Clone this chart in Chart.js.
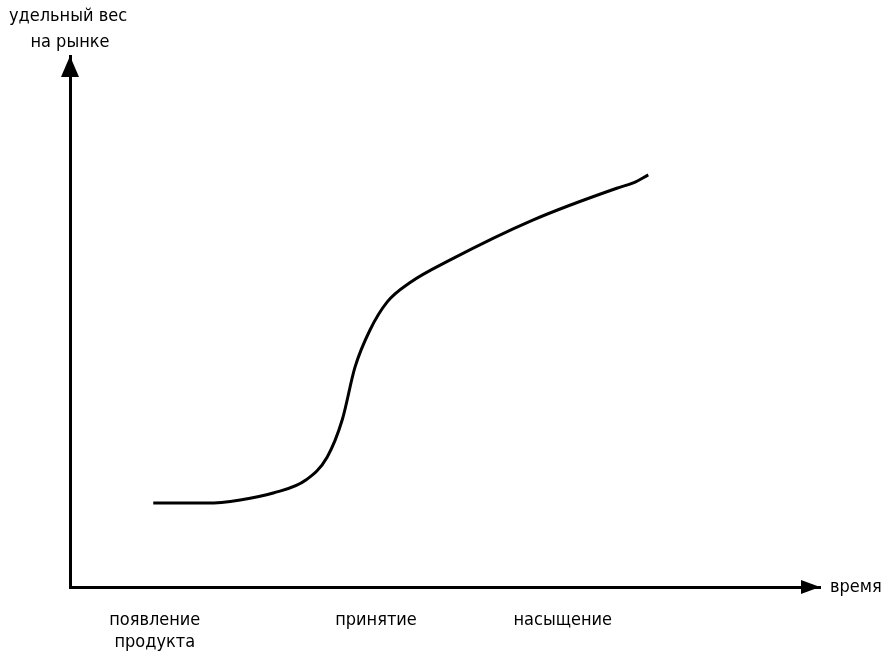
<!DOCTYPE html>
<html>
<head>
<meta charset="utf-8">
<script src="https://cdn.jsdelivr.net/npm/chart.js@4"></script>
<style>
  html, body { margin: 0; padding: 0; background: #fff; }
  #wrap { width: 888px; height: 652px; }
</style>
</head>
<body>
<div id="wrap"><canvas id="curve"></canvas></div>
<script>
// curve (x: time, y: market share), 0..100 on both axes
const timeX = [11.1, 18.3, 22.7, 27.1, 31.5, 34.3, 36.3, 38.0, 40.0, 42.3, 45.3, 50.7, 61.7, 72.9, 75.1, 77.1];
const shareY = [15.8, 15.8, 16.4, 17.7, 20.2, 24.5, 31.5, 41.4, 48.4, 53.7, 57.3, 61.6, 69.1, 75.1, 76.1, 77.6];

// stage labels under the time axis
const stageX = [11.3, 40.8, 65.7];
const stageLabels = [["появление", "продукта"], "принятие", "насыщение"];

const yTitle = ["удельный вес", "на рынке"];
const xTitle = "время";

const fontFamily = '"Liberation Sans Narrow", "DejaVu Sans Condensed", sans-serif';

//Arrowheads and axis titles
const axisDecor = {
    id: "axisDecor",
    afterDraw(chart) {
        const ctx = chart.ctx;
        const a = chart.chartArea;
        ctx.save();
        ctx.fillStyle = "#000";
        // up arrow
        ctx.beginPath();
        ctx.moveTo(a.left, a.top);
        ctx.lineTo(a.left - 9, a.top + 21);
        ctx.lineTo(a.left + 9, a.top + 21);
        ctx.closePath();
        ctx.fill();
        // right arrow
        ctx.beginPath();
        ctx.moveTo(a.right, a.bottom);
        ctx.lineTo(a.right - 19, a.bottom - 7);
        ctx.lineTo(a.right - 19, a.bottom + 7);
        ctx.closePath();
        ctx.fill();

        ctx.font = "18px " + fontFamily;
        ctx.textAlign = "center";
        ctx.textBaseline = "middle";
        ctx.fillText(yTitle[0], a.left - 2, 16);
        ctx.fillText(yTitle[1], a.left, 42);
        ctx.textAlign = "left";
        ctx.fillText(xTitle, a.right + 10, a.bottom);
        ctx.restore();
    },
};

new Chart("curve", {
    type: "line",
    data: {
        datasets: [
            {
                data: timeX.map((x, i) => ({ x: x, y: shareY[i] })),
                borderColor: "#000",
                borderWidth: 3,
                pointRadius: 0,
                fill: false,
                cubicInterpolationMode: "monotone",
            },
        ],
    },
    options: {
        responsive: true,
        maintainAspectRatio: false,
        animation: false,
        layout: { padding: { left: 70, top: 56, right: 68, bottom: 0 } },
        plugins: { legend: { display: false }, tooltip: { enabled: false } },
        scales: {
            x: {
                type: "linear",
                min: 0,
                max: 100,
                grid: { display: false, drawTicks: false },
                border: { color: "#000", width: 3 },
                afterFit: (s) => { s.height = 65; },
                afterBuildTicks: (s) => { s.ticks = stageX.map((v) => ({ value: v })); },
                ticks: {
                    padding: 23,
                    color: "#000",
                    font: { size: 18, family: fontFamily },
                    maxRotation: 0,
                    autoSkip: false,
                    callback: (v, i) => stageLabels[i],
                },
            },
            y: {
                min: 0,
                max: 100,
                grid: { display: false, drawTicks: false },
                border: { color: "#000", width: 3 },
                ticks: { display: false },
                afterFit: (s) => { s.width = 0; },
            },
        },
    },
    plugins: [axisDecor],
});
</script>
</body>
</html>
